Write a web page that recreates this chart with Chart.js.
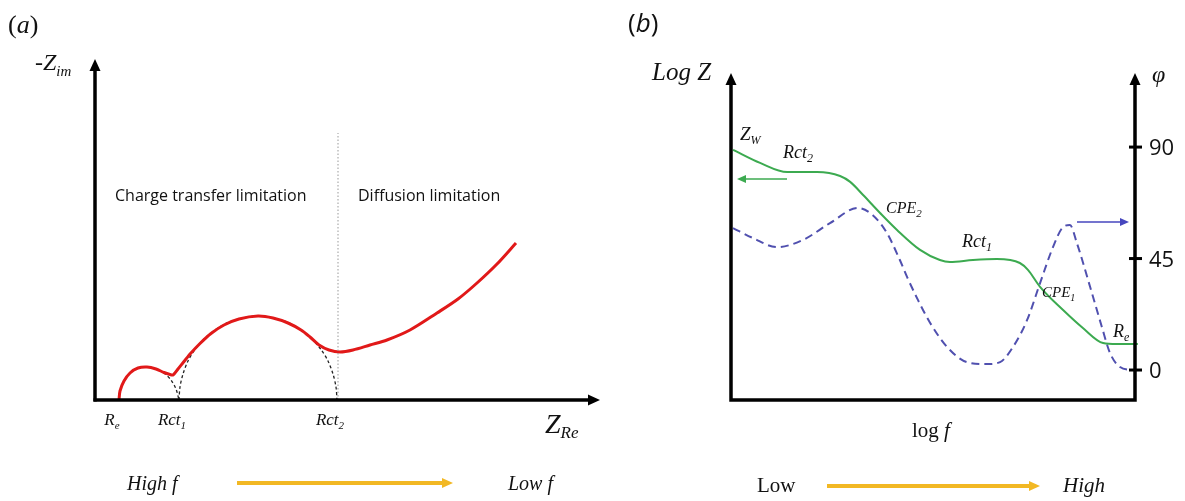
<!DOCTYPE html>
<html>
<head>
<meta charset="utf-8">
<script src="https://cdn.jsdelivr.net/npm/chart.js@4"></script>
<style>
html, body { margin: 0; padding: 0; background: #fff; }
#wrap { position: relative; width: 1185px; height: 501px; }
canvas { position: absolute; top: 0; }
#nyq { left: 0; }
#bode { left: 615px; }
</style>
</head>
<body>
<div id="wrap">
  <canvas id="nyq" width="615" height="501"></canvas>
  <canvas id="bode" width="570" height="501"></canvas>
</div>
<script>
// (a) Nyquist plot, arbitrary units
var nyqRed = [
  {x:2.4,y:0},{x:2.5,y:0.9},{x:2.9,y:1.9},{x:3.5,y:2.7},{x:4.3,y:3.2},{x:5.2,y:3.3},
  {x:6.1,y:3.1},{x:6.9,y:2.75},{x:7.5,y:2.55},{x:7.8,y:2.5},{x:8.3,y:3.1},{x:8.9,y:3.85},
  {x:9.6,y:4.7},{x:10.5,y:5.65},{x:11.6,y:6.65},{x:12.9,y:7.5},{x:14.4,y:8.1},{x:16.3,y:8.4},
  {x:17.8,y:8.2},{x:19.3,y:7.7},{x:20.6,y:7.0},{x:21.5,y:6.3},{x:22.4,y:5.5},{x:23.4,y:5.0},
  {x:24.5,y:4.8},{x:25.8,y:5.0},{x:27.5,y:5.5},{x:29.2,y:6.0},{x:31.5,y:7.0},{x:34.2,y:8.7},
  {x:36.3,y:10.1},{x:38.2,y:11.7},{x:40.2,y:13.6},{x:42.1,y:15.7}
];
var arc1 = [
  {x:2.4,y:0},{x:2.5,y:0.9},{x:2.9,y:1.9},{x:3.5,y:2.7},{x:4.3,y:3.2},{x:5.2,y:3.3},
  {x:6.1,y:3.1},{x:6.9,y:2.7},{x:7.6,y:2.0},{x:8.1,y:1.1},{x:8.4,y:0}
];
var arc2 = [
  {x:8.4,y:0},{x:8.5,y:1.3},{x:8.8,y:2.6},{x:9.3,y:3.9},{x:10.0,y:5.05},{x:10.9,y:6.1},
  {x:12.0,y:7.0},{x:13.3,y:7.75},{x:14.8,y:8.2},{x:16.3,y:8.4},{x:17.8,y:8.2},{x:19.3,y:7.75},
  {x:20.6,y:7.0},{x:21.7,y:6.1},{x:22.6,y:5.05},{x:23.3,y:3.9},{x:23.8,y:2.6},{x:24.1,y:1.3},
  {x:24.2,y:0}
];
var divider = [{x:24.3,y:0},{x:24.3,y:26.7}];
var nyqTicks = [2.4, 8.4, 24.2];
var nyqTickLabels = [['R','e'], ['Rct','1'], ['Rct','2']];

// (b) Bode plot: log Z (left) and phase (right) against log f
var logZ = [
  {x:0.5,y:76.5},{x:7.2,y:72.5},{x:13.9,y:69.7},{x:21.3,y:69.7},{x:27.0,y:68.5},{x:29.5,y:66.7},
  {x:32.7,y:62.7},{x:36.9,y:57.2},{x:41.1,y:52.0},{x:46.8,y:45.9},{x:51.7,y:42.8},{x:54.2,y:42.2},
  {x:59.9,y:42.8},{x:65.8,y:43.1},{x:71.5,y:41.9},{x:73.5,y:39.8},{x:76.5,y:34.6},{x:82.2,y:27.5},
  {x:87.1,y:22.0},{x:92.1,y:17.4},{x:95.5,y:17.1},{x:100.7,y:17.1}
];
var phase = [
  {x:0.5,y:57.3},{x:5.4,y:53.3},{x:11.4,y:49.6},{x:17.8,y:52.5},{x:24.5,y:59.3},{x:31.4,y:65.4},
  {x:35.1,y:62.5},{x:38.6,y:55.3},{x:41.8,y:44.4},{x:43.6,y:37.5},{x:46.3,y:28.2},{x:49.3,y:19.0},
  {x:53.5,y:9.3},{x:58.4,y:3.2},{x:63.4,y:2.4},{x:66.6,y:3.2},{x:69.8,y:9.3},{x:73.3,y:20.2},
  {x:76.5,y:35.1},{x:79.7,y:49.6},{x:82.2,y:57.7},{x:83.9,y:58.5},{x:85.6,y:51.3},{x:88.9,y:33.5},
  {x:91.8,y:17.4},{x:93.8,y:6.9},{x:96.3,y:1.2},{x:99.3,y:0}
];
var phaseTicks = [0, 45, 90];

var SERIF = '"Liberation Serif", "Times New Roman", serif';
var SANS = '"Open Sans", sans-serif';
var YELLOW = 'rgb(242,184,36)';

// parts: [text, size, italic, dy, family]
function txt(ctx, x, y, parts, align) {
  var setFont = function (p) {
    ctx.font = (p[2] ? 'italic ' : '') + p[1] + 'px ' + (p[4] || SERIF);
  };
  var w = 0;
  parts.forEach(function (p) { setFont(p); w += ctx.measureText(p[0]).width; });
  var cx = align === 'center' ? x - w / 2 : x;
  ctx.textAlign = 'left';
  ctx.textBaseline = 'alphabetic';
  ctx.fillStyle = '#111';
  parts.forEach(function (p) {
    setFont(p);
    ctx.fillText(p[0], cx, y + (p[3] || 0));
    cx += ctx.measureText(p[0]).width;
  });
}

function arrow(ctx, x1, y1, x2, y2, color, lw, head, hw) {
  var a = Math.atan2(y2 - y1, x2 - x1);
  var bx = x2 - head * Math.cos(a), by = y2 - head * Math.sin(a);
  ctx.save();
  ctx.strokeStyle = color; ctx.fillStyle = color; ctx.lineWidth = lw;
  ctx.beginPath(); ctx.moveTo(x1, y1); ctx.lineTo(bx, by); ctx.stroke();
  ctx.beginPath(); ctx.moveTo(x2, y2);
  ctx.lineTo(bx + hw * Math.sin(a), by - hw * Math.cos(a));
  ctx.lineTo(bx - hw * Math.sin(a), by + hw * Math.cos(a));
  ctx.closePath(); ctx.fill();
  ctx.restore();
}

var nyqDecor = {
  id: 'nyqDecor',
  afterDraw: function (chart) {
    var ctx = chart.ctx, a = chart.chartArea, xs = chart.scales.x;
    arrow(ctx, a.left, a.bottom + 1.5, a.left, a.top, '#000', 3.5, 12, 5.5);
    arrow(ctx, a.left - 1.5, a.bottom, a.right, a.bottom, '#000', 3.5, 12, 5.5);
    nyqTicks.forEach(function (v, i) {
      var l = nyqTickLabels[i];
      txt(ctx, xs.getPixelForValue(v) - 7, 425, [[l[0], 17, true], [l[1], 11, true, 4]], 'center');
    });
    txt(ctx, 8, 33, [['(', 26, false], ['a', 26, true], [')', 26, false]]);
    txt(ctx, 35, 70, [['-Z', 24, true], ['im', 15, true, 6]]);
    txt(ctx, 545, 433, [['Z', 28, true], ['Re', 17, true, 5]]);
    txt(ctx, 115, 201, [['Charge transfer limitation', 16, false, 0, SANS]]);
    txt(ctx, 358, 201, [['Diffusion limitation', 16, false, 0, SANS]]);
    txt(ctx, 127, 490, [['High f', 20, true]]);
    txt(ctx, 508, 490, [['Low f', 20, true]]);
    arrow(ctx, 237, 483, 453, 483, YELLOW, 4, 11, 5);
  }
};

var bodeDecor = {
  id: 'bodeDecor',
  afterDraw: function (chart) {
    var ctx = chart.ctx, a = chart.chartArea, y1 = chart.scales.y1;
    ctx.save();
    ctx.strokeStyle = '#000'; ctx.lineWidth = 3.5; ctx.lineJoin = 'miter';
    ctx.beginPath();
    ctx.moveTo(a.left, a.top + 10); ctx.lineTo(a.left, a.bottom);
    ctx.lineTo(a.right, a.bottom); ctx.lineTo(a.right, a.top + 10);
    ctx.stroke();
    ctx.restore();
    arrow(ctx, a.left, a.top + 12, a.left, a.top, '#000', 3.5, 12, 5.5);
    arrow(ctx, a.right, a.top + 12, a.right, a.top, '#000', 3.5, 12, 5.5);
    phaseTicks.forEach(function (v) {
      var py = y1.getPixelForValue(v);
      ctx.save();
      ctx.strokeStyle = '#000'; ctx.lineWidth = 3;
      ctx.beginPath(); ctx.moveTo(a.right - 6, py); ctx.lineTo(a.right + 7, py); ctx.stroke();
      ctx.restore();
      txt(ctx, a.right + 14, py + 8, [[String(v), 22, false, 0, SANS]]);
    });
    txt(ctx, 13, 32, [['(', 26, false, 0, SANS], ['b', 26, true, 0, SANS], [')', 26, false, 0, SANS]]);
    txt(ctx, 37, 80, [['Log Z', 25, true]]);
    txt(ctx, 537, 82, [['\u03c6', 24, true]]);
    txt(ctx, 125, 140, [['Z', 19, true], ['W', 12, true, 4]]);
    txt(ctx, 168, 158, [['Rct', 18, true], ['2', 12, true, 4]]);
    txt(ctx, 271, 213, [['CPE', 16, true], ['2', 11, true, 4]]);
    txt(ctx, 347, 247, [['Rct', 18, true], ['1', 12, true, 4]]);
    txt(ctx, 427, 297, [['CPE', 15, true], ['1', 10, true, 4]]);
    txt(ctx, 498, 337, [['R', 18, true], ['e', 12, true, 4]]);
    arrow(ctx, 172, 179, 122, 179, 'rgb(60,170,80)', 1.5, 9, 4);
    arrow(ctx, 462, 222, 514, 222, 'rgb(70,70,190)', 1.5, 9, 4);
    txt(ctx, 297, 437, [['log ', 21, false], ['f', 21, true]]);
    txt(ctx, 142, 492, [['Low', 21, false]]);
    arrow(ctx, 212, 486, 425, 486, YELLOW, 4, 11, 5);
    txt(ctx, 448, 492, [['High', 21, true]]);
  }
};

var common = {
  responsive: false,
  animation: false,
  events: [],
  plugins: { legend: { display: false }, tooltip: { enabled: false } },
  elements: { point: { radius: 0 } }
};

new Chart(document.getElementById('nyq').getContext('2d'), {
  type: 'scatter',
  data: {
    datasets: [
      { data: divider, showLine: true, borderColor: '#999', borderWidth: 1, borderDash: [1.5, 2] },
      { data: nyqRed, showLine: true, borderColor: 'rgb(225,25,25)', borderWidth: 3, tension: 0.3 },
      { data: arc1, showLine: true, borderColor: '#222', borderWidth: 1.3, borderDash: [3, 2.5], tension: 0.3 },
      { data: arc2, showLine: true, borderColor: '#222', borderWidth: 1.3, borderDash: [3, 2.5], tension: 0.3 }
    ]
  },
  options: Object.assign({}, common, {
    layout: { padding: { left: 95, right: 15, top: 59, bottom: 101 } },
    scales: {
      x: { type: 'linear', display: false, min: 0, max: 50.5 },
      y: { type: 'linear', display: false, min: 0, max: 34.1 }
    }
  }),
  plugins: [nyqDecor]
});

new Chart(document.getElementById('bode').getContext('2d'), {
  type: 'scatter',
  data: {
    datasets: [
      { data: logZ, yAxisID: 'y', showLine: true, borderColor: 'rgb(60,170,80)', borderWidth: 2,
        cubicInterpolationMode: 'monotone', clip: false },
      { data: phase, yAxisID: 'y1', showLine: true, borderColor: 'rgb(80,80,175)', borderWidth: 2,
        borderDash: [8, 5], cubicInterpolationMode: 'monotone' }
    ]
  },
  options: Object.assign({}, common, {
    layout: { padding: { left: 116, right: 50, top: 73, bottom: 101 } },
    scales: {
      x: { type: 'linear', display: false, min: 0, max: 100 },
      y: { type: 'linear', display: false, min: 0, max: 100 },
      y1: { type: 'linear', display: false, position: 'right', min: -12.1, max: 119.9 }
    }
  }),
  plugins: [bodeDecor]
});
</script>
</body>
</html>
